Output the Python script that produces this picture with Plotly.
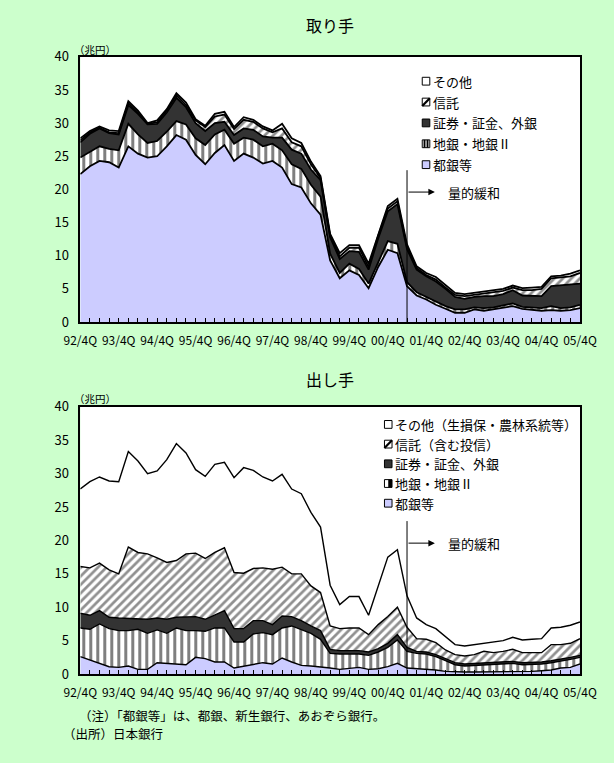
import plotly.graph_objects as go

# Quarter axis: 1992 Q4 through 2005 Q4
QUARTERS = [
    "92/4Q",
    "93/1Q", "93/2Q", "93/3Q", "93/4Q",
    "94/1Q", "94/2Q", "94/3Q", "94/4Q",
    "95/1Q", "95/2Q", "95/3Q", "95/4Q",
    "96/1Q", "96/2Q", "96/3Q", "96/4Q",
    "97/1Q", "97/2Q", "97/3Q", "97/4Q",
    "98/1Q", "98/2Q", "98/3Q", "98/4Q",
    "99/1Q", "99/2Q", "99/3Q", "99/4Q",
    "00/1Q", "00/2Q", "00/3Q", "00/4Q",
    "01/1Q", "01/2Q", "01/3Q", "01/4Q",
    "02/1Q", "02/2Q", "02/3Q", "02/4Q",
    "03/1Q", "03/2Q", "03/3Q", "03/4Q",
    "04/1Q", "04/2Q", "04/3Q", "04/4Q",
    "05/1Q", "05/2Q", "05/3Q", "05/4Q",
]
TICK_LABELS = ["92/4Q", "93/4Q", "94/4Q", "95/4Q", "96/4Q", "97/4Q", "98/4Q",
               "99/4Q", "00/4Q", "01/4Q", "02/4Q", "03/4Q", "04/4Q", "05/4Q"]
QE_START = "01/2Q"

# 取り手 (borrowers), 兆円
BORROW_CITY = [22.3, 23.5, 24.3, 24.1, 23.3, 26.5, 25.4, 24.8, 25.0, 26.5, 28.2, 27.5, 25.2, 23.8,
               25.5, 26.7, 24.3, 25.4, 24.8, 23.9, 24.3, 23.3, 20.8, 20.3, 17.9, 16.2, 9.3, 6.6,
               7.8, 7.1, 5.1, 8.3, 10.9, 10.4, 5.4, 4.0, 3.4, 2.6, 2.0, 1.4, 1.4, 1.9, 1.7, 1.9,
               2.2, 2.4, 2.0, 1.8, 1.7, 1.8, 1.7, 1.8, 2.1]
BORROW_REGIONAL = [2.5, 2.1, 2.2, 2.0, 2.6, 3.4, 2.9, 2.2, 2.3, 2.2, 2.1, 2.3, 2.5, 2.9,
                   2.8, 2.3, 2.6, 2.4, 2.7, 2.6, 2.6, 2.6, 3.0, 2.8, 2.8, 2.7, 1.0, 0.8,
                   1.0, 0.9, 0.7, 0.7, 1.3, 1.4, 0.6, 0.5, 0.4, 0.4, 0.4, 0.5, 0.5, 0.3, 0.4, 0.3,
                   0.3, 0.4, 0.3, 0.4, 0.4, 0.6, 0.4, 0.4, 0.5]
BORROW_SECURITIES = [2.3, 2.8, 2.7, 2.4, 2.4, 2.8, 3.1, 2.8, 2.6, 2.9, 3.5, 2.6, 2.3, 2.1,
                     1.7, 1.2, 1.3, 1.4, 1.5, 1.5, 0.9, 1.9, 2.2, 2.3, 2.3, 2.5, 2.5, 2.1,
                     1.9, 2.6, 2.1, 3.6, 4.5, 6.0, 5.0, 3.4, 3.1, 3.1, 2.6, 1.9, 1.6, 1.6, 1.8, 1.7,
                     1.7, 2.0, 1.7, 1.7, 1.8, 3.0, 3.4, 3.4, 3.2]
BORROW_TRUST = [0.3, 0.2, 0.1, 0.1, 0.2, 0.3, 0.2, 0.1, 0.2, 0.3, 0.4, 0.3, 0.4, 0.6,
                1.0, 1.1, 0.9, 1.3, 1.2, 1.2, 0.8, 1.4, 1.1, 1.1, 0.8, 0.3, 0.2, 0.4,
                0.5, 0.6, 0.4, 0.4, 0.4, 0.4, 0.3, 0.2, 0.2, 0.3, 0.2, 0.3, 0.4, 0.3, 0.4, 0.5,
                0.5, 0.4, 0.8, 0.9, 1.1, 1.2, 1.2, 1.3, 1.6]
BORROW_OTHER = [0.3, 0.2, 0.2, 0.3, 0.3, 0.3, 0.3, 0.1, 0.3, 0.2, 0.3, 0.4, 0.2, 0.2,
                0.4, 0.4, 0.3, 0.4, 0.3, 0.3, 0.3, 0.7, 0.6, 0.5, 0.4, 0.3, 0.3, 0.5,
                0.4, 0.4, 0.5, 0.3, 0.4, 0.4, 0.4, 0.3, 0.3, 0.4, 0.4, 0.3, 0.3, 0.3, 0.3, 0.3,
                0.3, 0.3, 0.3, 0.4, 0.3, 0.3, 0.3, 0.4, 0.4]

# 出し手 (lenders), 兆円
LEND_CITY = [2.6, 2.1, 1.6, 1.1, 1.0, 1.2, 0.7, 0.7, 1.7, 1.6, 1.4, 1.4, 2.5, 2.3,
             1.8, 1.8, 0.9, 1.2, 1.5, 1.7, 1.5, 2.4, 1.8, 1.3, 1.2, 1.1, 0.9, 0.7,
             0.8, 1.0, 0.7, 0.8, 1.1, 1.6, 0.9, 0.8, 0.8, 0.6, 0.4, 0.3, 0.3, 0.3, 0.3, 0.3,
             0.3, 0.3, 0.3, 0.4, 0.5, 0.6, 0.9, 1.0, 1.5]
LEND_REGIONAL = [4.3, 4.6, 5.9, 5.7, 5.5, 5.3, 6.0, 5.4, 4.9, 4.5, 5.5, 5.1, 4.0, 4.1,
                 5.1, 5.1, 3.9, 3.6, 4.5, 4.5, 4.4, 4.5, 5.4, 5.4, 4.9, 4.1, 2.2, 2.3,
                 2.2, 2.0, 2.1, 2.5, 2.9, 3.5, 2.5, 2.3, 2.2, 2.0, 1.6, 1.1, 0.9, 1.0, 1.1, 1.1,
                 1.2, 1.3, 1.1, 1.0, 1.0, 1.1, 1.0, 1.2, 1.0]
LEND_SECURITIES = [2.2, 2.1, 2.0, 1.7, 1.9, 1.8, 1.6, 2.1, 1.8, 2.1, 1.6, 2.0, 2.1, 1.8,
                   2.0, 2.6, 2.0, 2.0, 2.0, 1.8, 1.5, 1.8, 1.4, 1.3, 1.1, 1.3, 0.6, 0.5,
                   0.5, 0.5, 0.5, 0.5, 0.6, 0.8, 0.6, 0.3, 0.3, 0.3, 0.3, 0.3, 0.3, 0.3, 0.3, 0.3,
                   0.3, 0.3, 0.3, 0.3, 0.3, 0.3, 0.3, 0.3, 0.3]
LEND_TRUST = [7.0, 7.1, 7.1, 7.1, 6.6, 10.7, 9.9, 9.8, 9.0, 8.5, 8.5, 9.5, 9.5, 9.1,
              9.3, 9.4, 8.4, 8.3, 7.8, 7.9, 8.3, 7.3, 6.4, 7.0, 6.0, 5.7, 3.5, 3.3,
              3.4, 3.4, 2.6, 3.6, 4.0, 4.1, 3.0, 1.9, 1.9, 1.8, 1.3, 1.2, 1.2, 1.3, 1.7, 1.5,
              1.6, 1.8, 1.5, 1.5, 1.4, 2.4, 2.2, 2.1, 2.5]
LEND_OTHER = [11.6, 12.9, 12.9, 13.3, 13.8, 14.3, 13.7, 12.0, 13.0, 15.4, 17.5, 15.1, 12.5, 12.3,
              13.2, 12.8, 14.2, 15.8, 14.7, 13.6, 13.2, 13.9, 12.7, 12.0, 11.0, 9.8, 6.1, 3.6,
              4.7, 4.7, 2.9, 5.9, 8.9, 8.6, 4.7, 3.1, 2.2, 2.1, 2.0, 1.5, 1.5, 1.5, 1.2, 1.5,
              1.6, 1.8, 1.9, 2.0, 2.1, 2.5, 2.6, 2.7, 2.5]

BORROW_NAMES = ["都銀等", "地銀・地銀Ⅱ", "証券・証金、外銀", "信託", "その他"]
LEND_NAMES = ["都銀等", "地銀・地銀Ⅱ", "証券・証金、外銀", "信託（含む投信）", "その他（生損保・農林系統等）"]

W, H = 614, 763
GREEN = "#CCFFCC"
LAVENDER = "#CCCCFF"
DARK = "#333333"
FONT = "Noto Sans CJK JP"

x_idx = list(range(len(QUARTERS)))
tick_idx = [QUARTERS.index(t) for t in TICK_LABELS]
qe_x = QUARTERS.index(QE_START)


def px(x):
    return x / W


def py(y):
    return 1 - y / H


# fill style per layer, bottom to top
STYLES = [
    dict(fillcolor=LAVENDER),
    dict(fillcolor="white",
         fillpattern=dict(shape="|", fgcolor="black", bgcolor="white", size=7, solidity=0.43)),
    dict(fillcolor=DARK),
    dict(fillcolor="white",
         fillpattern=dict(shape="/", fgcolor="#222222", bgcolor="white", size=6, solidity=0.45)),
    dict(fillcolor="white"),
]

fig = go.Figure()

panels = [
    ("top", "x", "y", [BORROW_CITY, BORROW_REGIONAL, BORROW_SECURITIES, BORROW_TRUST, BORROW_OTHER],
     BORROW_NAMES, 1.8),
    ("bot", "x2", "y2", [LEND_CITY, LEND_REGIONAL, LEND_SECURITIES, LEND_TRUST, LEND_OTHER],
     LEND_NAMES, 1.4),
]

for group, xa, ya, layers, names, lw in panels:
    for vals, name, style in zip(layers, names, STYLES):
        fig.add_trace(go.Scatter(
            x=x_idx, y=vals, name=name, mode="lines", stackgroup=group,
            line=dict(color="black", width=lw), xaxis=xa, yaxis=ya,
            showlegend=False, hoverinfo="skip", **style,
        ))

# plot areas (pixel boxes: left, top, right, bottom)
TOP_BOX = (67, 48, 596, 320)
BOT_BOX = (67, 407, 596, 681)

axis_common = dict(showline=True, mirror=True, linecolor="black", linewidth=1.5,
                   showgrid=False, zeroline=False)
xaxis_common = dict(
    range=[0, len(QUARTERS) - 1], tickvals=tick_idx, ticktext=TICK_LABELS,
    ticks="inside", ticklen=4, tickwidth=1, tickcolor="black",
    minor=dict(dtick=1, ticks="inside", ticklen=4, tickwidth=1, tickcolor="black"),
    tickfont=dict(family=FONT, size=12, color="black"), ticklabelstandoff=7,
    **axis_common,
)
yaxis_common = dict(range=[0, 40], dtick=5, ticks="",
                    tickfont=dict(family=FONT, size=13, color="black"),
                    ticklabelstandoff=7, **axis_common)

fig.update_layout(
    width=W, height=H, margin=dict(l=0, r=0, t=0, b=0),
    paper_bgcolor=GREEN, plot_bgcolor="white", showlegend=False,
    font=dict(family=FONT, color="black"),
    xaxis=dict(domain=[px(TOP_BOX[0]), px(TOP_BOX[2])], anchor="y", **xaxis_common),
    yaxis=dict(domain=[py(TOP_BOX[3]), py(TOP_BOX[1])], anchor="x", **yaxis_common),
    xaxis2=dict(domain=[px(BOT_BOX[0]), px(BOT_BOX[2])], anchor="y2", **xaxis_common),
    yaxis2=dict(domain=[py(BOT_BOX[3]), py(BOT_BOX[1])], anchor="x2", **yaxis_common),
)

ann = []
shapes = []

# panel titles and unit labels
for title, ty, uy in [("取り手", 15, 40), ("出し手", 378, 398)]:
    ann.append(dict(text=title, x=px(331), y=py(ty), xref="paper", yref="paper",
                    showarrow=False, font=dict(size=16, family=FONT), xanchor="center",
                    yanchor="middle"))
    ann.append(dict(text="（兆円）", x=px(58), y=py(uy), xref="paper", yref="paper",
                    showarrow=False, font=dict(size=10.5, family=FONT), xanchor="left",
                    yanchor="middle"))

# quantitative easing marker
for xa, ya in [("x", "y"), ("x2", "y2")]:
    shapes.append(dict(type="line", xref=xa, yref=ya, x0=qe_x, x1=qe_x, y0=0, y1=22.9,
                       line=dict(color="black", width=1), layer="above"))
    ann.append(dict(text="", x=qe_x + 2.9, y=19.6, ax=qe_x, ay=19.6, xref=xa, yref=ya,
                    axref=xa, ayref=ya, showarrow=True, arrowhead=2, arrowsize=1.3,
                    arrowwidth=1, arrowcolor="black"))
    ann.append(dict(text="量的緩和", x=qe_x + 4.1, y=19.6, xref=xa, yref=ya,
                    showarrow=False, font=dict(size=13, family=FONT), xanchor="left",
                    yanchor="middle"))


# legends (listed top to bottom)
def legend_box(kind, x0, yc, variant):
    s = 8
    x1 = x0 + s
    y0, y1 = py(yc + s / 2), py(yc - s / 2)
    fill = {"other": "white", "trust": "white", "sec": DARK, "reg": "white", "city": LAVENDER}[kind]
    shapes.append(dict(type="rect", xref="paper", yref="paper", x0=px(x0), x1=px(x1),
                       y0=y0, y1=y1, fillcolor=fill, line=dict(color="black", width=1)))
    if kind == "trust":
        shapes.append(dict(type="line", xref="paper", yref="paper", x0=px(x0), x1=px(x1),
                           y0=y0, y1=y1, line=dict(color="black", width=2.2)))
    if kind == "reg":
        if variant == "top":
            for fx in (0.3, 0.7):
                shapes.append(dict(type="rect", xref="paper", yref="paper",
                                   x0=px(x0 + s * fx - 1), x1=px(x0 + s * fx + 1),
                                   y0=y0, y1=y1, fillcolor="black", line=dict(width=0)))
        else:
            shapes.append(dict(type="rect", xref="paper", yref="paper",
                               x0=px(x0 + s / 2), x1=px(x1), y0=y0, y1=y1,
                               fillcolor="black", line=dict(width=0)))


kinds = ["other", "trust", "sec", "reg", "city"]
for names, x0, rows, variant in [
    (BORROW_NAMES, 429, [73, 94.4, 115.8, 137.2, 158.6], "top"),
    (LEND_NAMES, 389, [425, 445.2, 465.4, 485.6, 505.8], "bot"),
]:
    for kind, name, yc in zip(kinds, names[::-1], rows):
        legend_box(kind, x0, yc, variant)
        ann.append(dict(text=name, x=px(x0 + 9), y=py(yc), xref="paper", yref="paper",
                        showarrow=False, font=dict(size=13, family=FONT), xanchor="left",
                        yanchor="middle"))

# notes
ann.append(dict(text="（注）「都銀等」は、都銀、新生銀行、あおぞら銀行。", x=px(63), y=py(724),
                xref="paper", yref="paper", showarrow=False, xanchor="left", yanchor="middle",
                font=dict(size=12.5, family=FONT)))
ann.append(dict(text="（出所）日本銀行", x=px(47), y=py(742), xref="paper", yref="paper",
                showarrow=False, xanchor="left", yanchor="middle",
                font=dict(size=12.5, family=FONT)))

fig.update_layout(annotations=ann, shapes=shapes)
fig.write_html("out.html")
